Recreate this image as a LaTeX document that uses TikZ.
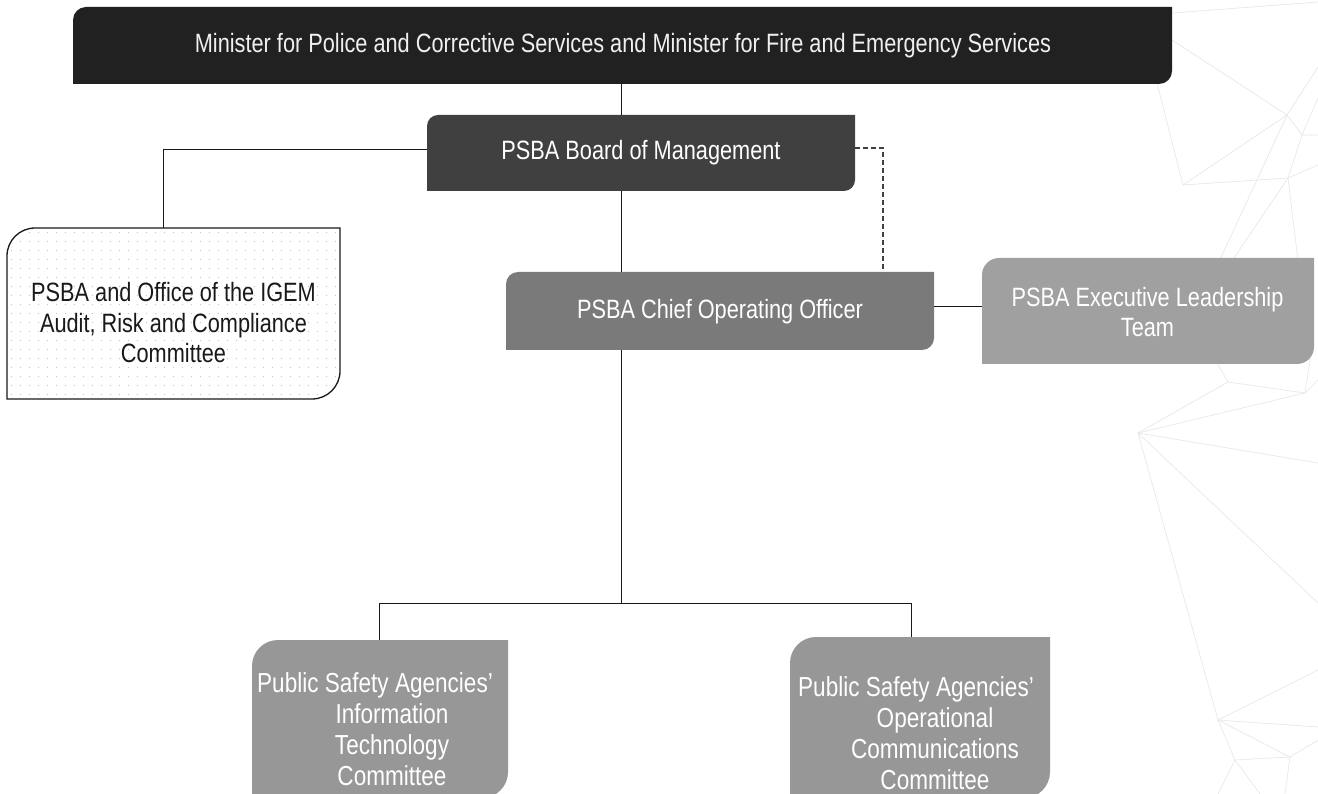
\documentclass[tikz,border=0pt]{standalone}
\usepackage{fontspec}
\setmainfont[FakeStretch=0.82]{Liberation Sans}
\usetikzlibrary{calc}
\definecolor{cTop}{HTML}{212121}
\definecolor{cBoard}{HTML}{404040}
\definecolor{cCoo}{HTML}{7A7A7A}
\definecolor{cExec}{HTML}{A0A0A0}
\definecolor{cCom}{HTML}{979797}
\definecolor{cMesh}{HTML}{E6E6E6}
\definecolor{cDot}{HTML}{C4C4C4}
\newcommand\cboxpath[3]{%
  \path[#1] (#2.south west) -- ([yshift=-#3]#2.north west) arc[start angle=180,end angle=90,radius=#3]
    -- (#2.north east) -- ([yshift=#3]#2.south east) arc[start angle=0,end angle=-90,radius=#3] -- cycle;}
\tikzset{
  boxn/.style={rectangle, inner sep=0pt, outer sep=0pt, draw=none},
  wtxt/.style={text=white, align=center, inner sep=0pt, font=\fontsize{26.5pt}{30pt}\selectfont},
  btxt/.style={text=black!90, align=center, inner sep=0pt, font=\fontsize{26.5pt}{30.5pt}\selectfont},
  ctxt/.style={text=white, align=center, inner sep=0pt, font=\fontsize{27.5pt}{31pt}\selectfont},
  conn/.style={draw=black!90, line width=1pt},
  dconn/.style={draw=black!75, line width=1.1pt, dash pattern=on 5pt off 3pt},
  mesh/.style={draw=cMesh, line width=0.6pt}
}
\begin{document}
\begin{tikzpicture}[x=1pt,y=-1pt]
\useasboundingbox (0,0) rectangle (1318,794);
\clip (0,0) rectangle (1318,794);
\fill[white] (0,0) rectangle (1318,794);
% background mesh
\coordinate (m1) at (1173,13); \coordinate (m2) at (1287,115); \coordinate (m3) at (1302,135);
\coordinate (m4) at (1183,185); \coordinate (m5) at (1288,178); \coordinate (m6) at (1157,83);
\coordinate (m7) at (1192,320); \coordinate (m8) at (1310,360); \coordinate (m9) at (1228,382);
\coordinate (m10) at (1305,393); \coordinate (m11) at (1138,433); \coordinate (m12) at (1218,720);
\coordinate (m13) at (1235,760); \coordinate (m14) at (1290,757); \coordinate (m15) at (1172,40);
\draw[mesh] (m1) -- (1318,2);
\draw[mesh] (m15) -- (m2) -- (1318,67);
\draw[mesh] (m6) -- (m4) -- (m2) -- (m3) -- (1318,135);
\draw[mesh] (m4) -- (m5) -- (1318,165);
\draw[mesh] (m3) -- (m5) -- (m8);
\draw[mesh] (m3) -- (1318,98);
\draw[mesh] (m2) -- (m7) -- (m9);
\draw[mesh] (m5) -- (m7) -- (m8) -- (m10);
\draw[mesh] (m9) -- (m10) -- (1318,380);
\draw[mesh] (m11) -- (m9);
\draw[mesh] (m11) -- (m10);
\draw[mesh] (m11) -- (1318,463);
\draw[mesh] (m11) -- (1318,603);
\draw[mesh] (m11) -- (m12) -- (1318,670);
\draw[mesh] (m12) -- (1318,727);
\draw[mesh] (m12) -- (m14) -- (m13) -- (m12);
\draw[mesh] (m13) -- (1218,794);
\draw[mesh] (m13) -- (1260,794);
\draw[mesh] (m14) -- (1285,794);
\draw[mesh] (m14) -- (1318,740);
% nodes (boxes)
\node[boxn, minimum width=1099pt, minimum height=77pt] (top) at (622.5,45.5) {};
\node[boxn, minimum width=428pt, minimum height=76pt] (board) at (641,153) {};
\node[boxn, minimum width=333pt, minimum height=171pt] (arc) at (173.5,313.5) {};
\node[boxn, minimum width=428pt, minimum height=78pt] (coo) at (720,311) {};
\node[boxn, minimum width=332pt, minimum height=106pt] (exec) at (1148,311) {};
\node[boxn, minimum width=256pt, minimum height=158pt] (itc) at (380,719) {};
\node[boxn, minimum width=260pt, minimum height=161pt] (occ) at (920,717.5) {};
% fills
\cboxpath{fill=cTop}{top}{13pt}
\cboxpath{fill=cBoard}{board}{11pt}
\cboxpath{fill=cCoo}{coo}{12pt}
\cboxpath{fill=cExec}{exec}{17pt}
\cboxpath{fill=cCom}{itc}{26pt}
\cboxpath{fill=cCom}{occ}{26pt}
\begin{scope}
\cboxpath{clip}{arc}{28pt}
\fill[white] (arc.north west) rectangle (arc.south east);
\foreach \i in {0,...,37} {\foreach \j in {0,...,19} {
  \fill[cDot] ($(arc.north west)+(4.5+9*\i,4.5+9*\j)$) circle (0.65pt);}}
\end{scope}
\cboxpath{draw=black!90, line width=1.3pt}{arc}{28pt}
% texts
\node[wtxt, text=white!94!black] (topT) at (623,46) {Minister for Police and Corrective Services and Minister for Fire and Emergency Services};
\node[wtxt] (boardT) at (641,153) {PSBA Board of Management};
\node[wtxt] (cooT) at (720,312) {PSBA Chief Operating Officer};
\node[wtxt] (execT) at (1147.5,312) {PSBA Executive Leadership\\Team};
\node[btxt] (arcT) at (173.5,323) {PSBA and Office of the IGEM\\Audit, Risk and Compliance\\Committee};
\node[ctxt] (itcT) at (392,729) {Public Safety Agencies'\kern34pt\\Information\\Technology\\Committee};
\node[ctxt] (occT) at (935,733) {Public Safety Agencies'\kern38pt\\Operational\\Communications\\Committee};
% connectors
\coordinate (jx) at (621.5,0);
\coordinate (jl) at (163,0);
\coordinate (jd) at (883,0);
\coordinate (jh) at (0,603);
\coordinate (jb) at (0,150);
\coordinate (jdh) at (0,148);
\coordinate (jc) at (0,307);
\coordinate (ji) at (379,0);
\coordinate (jo) at (911,0);
\draw[conn] (jx |- top.south) -- (jx |- board.north);
\draw[conn] (jx |- board.south) -- (jx |- coo.north);
\draw[conn] (board.west |- jb) -| (jl |- arc.north);
\draw[dconn] (board.east |- jdh) -| (jd |- coo.north);
\draw[conn] (coo.east |- jc) -- (exec.west |- jc);
\draw[conn] (jx |- coo.south) -- (jx |- jh);
\draw[conn] (ji |- itc.north) -- (ji |- jh) -- (jo |- jh) -- (jo |- occ.north);
\end{tikzpicture}
\end{document}
